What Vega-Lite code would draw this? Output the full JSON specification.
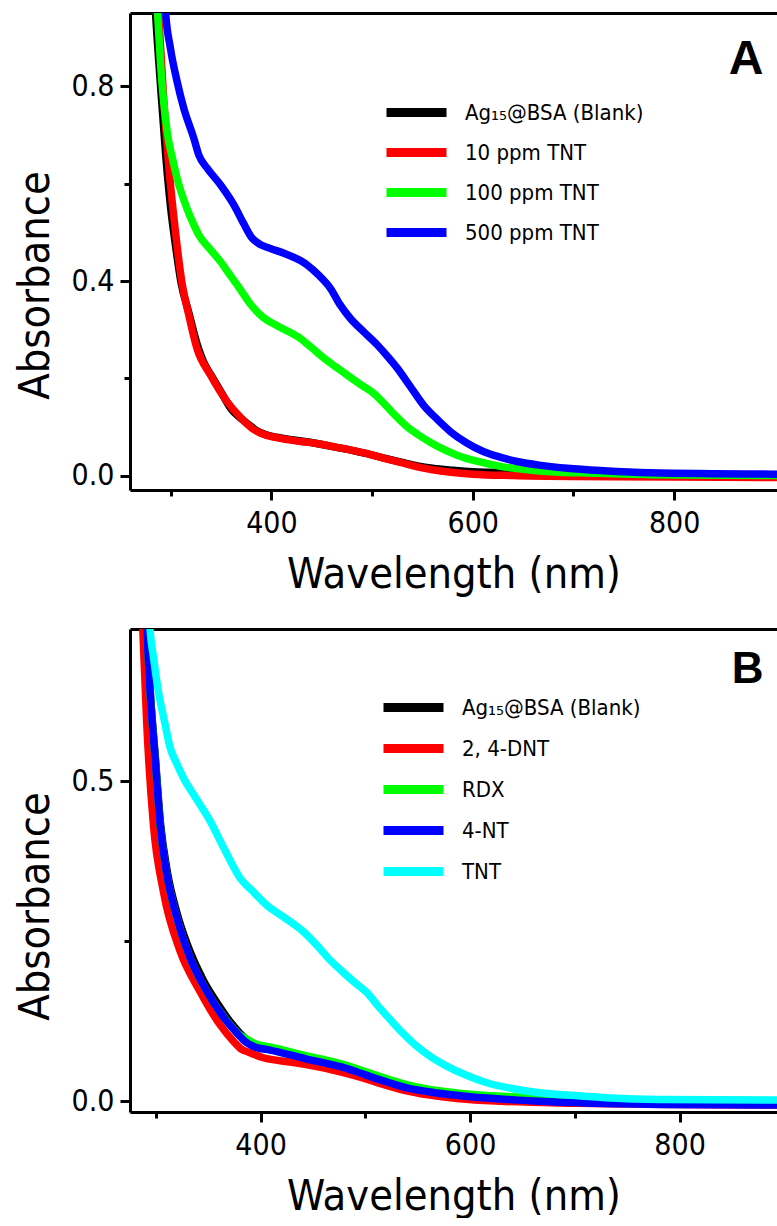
{
  "$schema": "https://vega.github.io/schema/vega-lite/v6.json",
  "padding": {"left": 14, "top": 13, "right": 0, "bottom": 0},
  "spacing": 33,
  "background": "white",
  "resolve": {"scale": {"color": "independent"}, "legend": {"color": "independent"}},
  "config": {
    "view": {"stroke": null},
    "axis": {
      "grid": false,
      "domainColor": "black",
      "domainWidth": 3,
      "tickColor": "black",
      "tickWidth": 3,
      "labelColor": "black",
      "titleColor": "black",
      "labelFont": "'DejaVu Sans Condensed', 'Liberation Sans', sans-serif",
      "titleFont": "'DejaVu Sans Condensed', 'Liberation Sans', sans-serif",
      "labelFontSize": 30,
      "titleFontSize": 43,
      "titleFontWeight": "normal",
      "labelPadding": 6
    },
    "legend": {
      "labelFont": "'DejaVu Sans Condensed', 'Liberation Sans', sans-serif",
      "labelFontSize": 22,
      "labelColor": "black",
      "labelLimit": 400
    }
  },
  "datasets": {
    "A": [
      {"series": "Ag₁₅@BSA (Blank)", "nm": 278, "abs": 1.25},
      {"series": "Ag₁₅@BSA (Blank)", "nm": 285, "abs": 0.95},
      {"series": "Ag₁₅@BSA (Blank)", "nm": 290, "abs": 0.80},
      {"series": "Ag₁₅@BSA (Blank)", "nm": 295, "abs": 0.66},
      {"series": "Ag₁₅@BSA (Blank)", "nm": 300, "abs": 0.55},
      {"series": "Ag₁₅@BSA (Blank)", "nm": 305, "abs": 0.47},
      {"series": "Ag₁₅@BSA (Blank)", "nm": 310, "abs": 0.40},
      {"series": "Ag₁₅@BSA (Blank)", "nm": 318, "abs": 0.335},
      {"series": "Ag₁₅@BSA (Blank)", "nm": 326, "abs": 0.272},
      {"series": "Ag₁₅@BSA (Blank)", "nm": 334, "abs": 0.228},
      {"series": "Ag₁₅@BSA (Blank)", "nm": 340, "abs": 0.207},
      {"series": "Ag₁₅@BSA (Blank)", "nm": 350, "abs": 0.172},
      {"series": "Ag₁₅@BSA (Blank)", "nm": 360, "abs": 0.137},
      {"series": "Ag₁₅@BSA (Blank)", "nm": 370, "abs": 0.117},
      {"series": "Ag₁₅@BSA (Blank)", "nm": 380, "abs": 0.101},
      {"series": "Ag₁₅@BSA (Blank)", "nm": 385, "abs": 0.093},
      {"series": "Ag₁₅@BSA (Blank)", "nm": 395, "abs": 0.084},
      {"series": "Ag₁₅@BSA (Blank)", "nm": 405, "abs": 0.079},
      {"series": "Ag₁₅@BSA (Blank)", "nm": 420, "abs": 0.074},
      {"series": "Ag₁₅@BSA (Blank)", "nm": 445, "abs": 0.066},
      {"series": "Ag₁₅@BSA (Blank)", "nm": 465, "abs": 0.058},
      {"series": "Ag₁₅@BSA (Blank)", "nm": 480, "abs": 0.052},
      {"series": "Ag₁₅@BSA (Blank)", "nm": 495, "abs": 0.045},
      {"series": "Ag₁₅@BSA (Blank)", "nm": 510, "abs": 0.037},
      {"series": "Ag₁₅@BSA (Blank)", "nm": 530, "abs": 0.027},
      {"series": "Ag₁₅@BSA (Blank)", "nm": 545, "abs": 0.020},
      {"series": "Ag₁₅@BSA (Blank)", "nm": 560, "abs": 0.015},
      {"series": "Ag₁₅@BSA (Blank)", "nm": 580, "abs": 0.011},
      {"series": "Ag₁₅@BSA (Blank)", "nm": 600, "abs": 0.008},
      {"series": "Ag₁₅@BSA (Blank)", "nm": 640, "abs": 0.006},
      {"series": "Ag₁₅@BSA (Blank)", "nm": 700, "abs": 0.004},
      {"series": "Ag₁₅@BSA (Blank)", "nm": 800, "abs": 0.002},
      {"series": "Ag₁₅@BSA (Blank)", "nm": 905, "abs": 0.001},

      {"series": "10 ppm TNT", "nm": 280, "abs": 1.25},
      {"series": "10 ppm TNT", "nm": 288, "abs": 0.95},
      {"series": "10 ppm TNT", "nm": 293, "abs": 0.776},
      {"series": "10 ppm TNT", "nm": 298, "abs": 0.639},
      {"series": "10 ppm TNT", "nm": 304.7, "abs": 0.502},
      {"series": "10 ppm TNT", "nm": 311, "abs": 0.399},
      {"series": "10 ppm TNT", "nm": 318, "abs": 0.330},
      {"series": "10 ppm TNT", "nm": 326, "abs": 0.262},
      {"series": "10 ppm TNT", "nm": 339.5, "abs": 0.207},
      {"series": "10 ppm TNT", "nm": 356, "abs": 0.152},
      {"series": "10 ppm TNT", "nm": 370, "abs": 0.118},
      {"series": "10 ppm TNT", "nm": 381, "abs": 0.097},
      {"series": "10 ppm TNT", "nm": 392, "abs": 0.085},
      {"series": "10 ppm TNT", "nm": 405, "abs": 0.078},
      {"series": "10 ppm TNT", "nm": 429, "abs": 0.070},
      {"series": "10 ppm TNT", "nm": 445, "abs": 0.066},
      {"series": "10 ppm TNT", "nm": 465, "abs": 0.058},
      {"series": "10 ppm TNT", "nm": 478, "abs": 0.053},
      {"series": "10 ppm TNT", "nm": 495, "abs": 0.045},
      {"series": "10 ppm TNT", "nm": 511, "abs": 0.036},
      {"series": "10 ppm TNT", "nm": 528, "abs": 0.027},
      {"series": "10 ppm TNT", "nm": 545, "abs": 0.018},
      {"series": "10 ppm TNT", "nm": 560, "abs": 0.012},
      {"series": "10 ppm TNT", "nm": 578, "abs": 0.007},
      {"series": "10 ppm TNT", "nm": 600, "abs": 0.003},
      {"series": "10 ppm TNT", "nm": 640, "abs": 0.0},
      {"series": "10 ppm TNT", "nm": 700, "abs": -0.002},
      {"series": "10 ppm TNT", "nm": 800, "abs": -0.003},
      {"series": "10 ppm TNT", "nm": 905, "abs": -0.004},

      {"series": "100 ppm TNT", "nm": 280, "abs": 1.3},
      {"series": "100 ppm TNT", "nm": 287, "abs": 0.95},
      {"series": "100 ppm TNT", "nm": 290, "abs": 0.844},
      {"series": "100 ppm TNT", "nm": 296.5, "abs": 0.707},
      {"series": "100 ppm TNT", "nm": 302, "abs": 0.65},
      {"series": "100 ppm TNT", "nm": 306.4, "abs": 0.611},
      {"series": "100 ppm TNT", "nm": 316, "abs": 0.550},
      {"series": "100 ppm TNT", "nm": 322, "abs": 0.520},
      {"series": "100 ppm TNT", "nm": 327.9, "abs": 0.495},
      {"series": "100 ppm TNT", "nm": 338, "abs": 0.468},
      {"series": "100 ppm TNT", "nm": 349.4, "abs": 0.440},
      {"series": "100 ppm TNT", "nm": 358, "abs": 0.415},
      {"series": "100 ppm TNT", "nm": 366, "abs": 0.392},
      {"series": "100 ppm TNT", "nm": 381, "abs": 0.348},
      {"series": "100 ppm TNT", "nm": 392, "abs": 0.325},
      {"series": "100 ppm TNT", "nm": 405.7, "abs": 0.308},
      {"series": "100 ppm TNT", "nm": 428.8, "abs": 0.282},
      {"series": "100 ppm TNT", "nm": 438.8, "abs": 0.265},
      {"series": "100 ppm TNT", "nm": 455, "abs": 0.237},
      {"series": "100 ppm TNT", "nm": 465, "abs": 0.222},
      {"series": "100 ppm TNT", "nm": 475, "abs": 0.207},
      {"series": "100 ppm TNT", "nm": 488, "abs": 0.188},
      {"series": "100 ppm TNT", "nm": 501.6, "abs": 0.169},
      {"series": "100 ppm TNT", "nm": 511, "abs": 0.150},
      {"series": "100 ppm TNT", "nm": 521.5, "abs": 0.127},
      {"series": "100 ppm TNT", "nm": 535, "abs": 0.100},
      {"series": "100 ppm TNT", "nm": 551, "abs": 0.077},
      {"series": "100 ppm TNT", "nm": 565, "abs": 0.060},
      {"series": "100 ppm TNT", "nm": 584.5, "abs": 0.042},
      {"series": "100 ppm TNT", "nm": 605, "abs": 0.029},
      {"series": "100 ppm TNT", "nm": 627.5, "abs": 0.019},
      {"series": "100 ppm TNT", "nm": 650, "abs": 0.013},
      {"series": "100 ppm TNT", "nm": 677, "abs": 0.008},
      {"series": "100 ppm TNT", "nm": 720, "abs": 0.005},
      {"series": "100 ppm TNT", "nm": 776, "abs": 0.002},
      {"series": "100 ppm TNT", "nm": 905, "abs": 0.0},

      {"series": "500 ppm TNT", "nm": 288, "abs": 1.3},
      {"series": "500 ppm TNT", "nm": 295, "abs": 0.951},
      {"series": "500 ppm TNT", "nm": 299.7, "abs": 0.879},
      {"series": "500 ppm TNT", "nm": 306.4, "abs": 0.810},
      {"series": "500 ppm TNT", "nm": 313, "abs": 0.755},
      {"series": "500 ppm TNT", "nm": 322.9, "abs": 0.694},
      {"series": "500 ppm TNT", "nm": 327.9, "abs": 0.659},
      {"series": "500 ppm TNT", "nm": 336.2, "abs": 0.632},
      {"series": "500 ppm TNT", "nm": 349.4, "abs": 0.598},
      {"series": "500 ppm TNT", "nm": 362.6, "abs": 0.557},
      {"series": "500 ppm TNT", "nm": 372, "abs": 0.520},
      {"series": "500 ppm TNT", "nm": 380.9, "abs": 0.488},
      {"series": "500 ppm TNT", "nm": 390, "abs": 0.474},
      {"series": "500 ppm TNT", "nm": 399, "abs": 0.467},
      {"series": "500 ppm TNT", "nm": 415, "abs": 0.455},
      {"series": "500 ppm TNT", "nm": 428.8, "abs": 0.442},
      {"series": "500 ppm TNT", "nm": 435.5, "abs": 0.433},
      {"series": "500 ppm TNT", "nm": 447, "abs": 0.412},
      {"series": "500 ppm TNT", "nm": 458.6, "abs": 0.385},
      {"series": "500 ppm TNT", "nm": 468, "abs": 0.352},
      {"series": "500 ppm TNT", "nm": 478.5, "abs": 0.323},
      {"series": "500 ppm TNT", "nm": 492, "abs": 0.295},
      {"series": "500 ppm TNT", "nm": 505, "abs": 0.269},
      {"series": "500 ppm TNT", "nm": 515, "abs": 0.246},
      {"series": "500 ppm TNT", "nm": 525, "abs": 0.221},
      {"series": "500 ppm TNT", "nm": 538, "abs": 0.183},
      {"series": "500 ppm TNT", "nm": 551, "abs": 0.145},
      {"series": "500 ppm TNT", "nm": 565, "abs": 0.115},
      {"series": "500 ppm TNT", "nm": 578, "abs": 0.090},
      {"series": "500 ppm TNT", "nm": 594, "abs": 0.067},
      {"series": "500 ppm TNT", "nm": 611, "abs": 0.049},
      {"series": "500 ppm TNT", "nm": 627, "abs": 0.038},
      {"series": "500 ppm TNT", "nm": 644, "abs": 0.029},
      {"series": "500 ppm TNT", "nm": 668, "abs": 0.021},
      {"series": "500 ppm TNT", "nm": 694, "abs": 0.015},
      {"series": "500 ppm TNT", "nm": 730, "abs": 0.010},
      {"series": "500 ppm TNT", "nm": 776, "abs": 0.006},
      {"series": "500 ppm TNT", "nm": 905, "abs": 0.003}
    ],
    "B": [
      {"series": "Ag₁₅@BSA (Blank)", "nm": 285, "abs": 1.0},
      {"series": "Ag₁₅@BSA (Blank)", "nm": 291.5, "abs": 0.7375},
      {"series": "Ag₁₅@BSA (Blank)", "nm": 294.6, "abs": 0.641},
      {"series": "Ag₁₅@BSA (Blank)", "nm": 299.5, "abs": 0.537},
      {"series": "Ag₁₅@BSA (Blank)", "nm": 304.5, "abs": 0.433},
      {"series": "Ag₁₅@BSA (Blank)", "nm": 311, "abs": 0.358},
      {"series": "Ag₁₅@BSA (Blank)", "nm": 320, "abs": 0.295},
      {"series": "Ag₁₅@BSA (Blank)", "nm": 330, "abs": 0.245},
      {"series": "Ag₁₅@BSA (Blank)", "nm": 345, "abs": 0.190},
      {"series": "Ag₁₅@BSA (Blank)", "nm": 360, "abs": 0.150},
      {"series": "Ag₁₅@BSA (Blank)", "nm": 372, "abs": 0.122},
      {"series": "Ag₁₅@BSA (Blank)", "nm": 381, "abs": 0.105},
      {"series": "Ag₁₅@BSA (Blank)", "nm": 386, "abs": 0.097},
      {"series": "Ag₁₅@BSA (Blank)", "nm": 396, "abs": 0.088},
      {"series": "Ag₁₅@BSA (Blank)", "nm": 409, "abs": 0.083},
      {"series": "Ag₁₅@BSA (Blank)", "nm": 444, "abs": 0.069},
      {"series": "Ag₁₅@BSA (Blank)", "nm": 466, "abs": 0.061},
      {"series": "Ag₁₅@BSA (Blank)", "nm": 490, "abs": 0.050},
      {"series": "Ag₁₅@BSA (Blank)", "nm": 507.6, "abs": 0.040},
      {"series": "Ag₁₅@BSA (Blank)", "nm": 539.5, "abs": 0.024},
      {"series": "Ag₁₅@BSA (Blank)", "nm": 577.7, "abs": 0.013},
      {"series": "Ag₁₅@BSA (Blank)", "nm": 600, "abs": 0.009},
      {"series": "Ag₁₅@BSA (Blank)", "nm": 640, "abs": 0.005},
      {"series": "Ag₁₅@BSA (Blank)", "nm": 700, "abs": 0.002},
      {"series": "Ag₁₅@BSA (Blank)", "nm": 800, "abs": 0.0},
      {"series": "Ag₁₅@BSA (Blank)", "nm": 900, "abs": -0.001},

      {"series": "2, 4-DNT", "nm": 282, "abs": 1.0},
      {"series": "2, 4-DNT", "nm": 287.5, "abs": 0.7375},
      {"series": "2, 4-DNT", "nm": 291.3, "abs": 0.589},
      {"series": "2, 4-DNT", "nm": 297.6, "abs": 0.433},
      {"series": "2, 4-DNT", "nm": 307, "abs": 0.329},
      {"series": "2, 4-DNT", "nm": 323, "abs": 0.235},
      {"series": "2, 4-DNT", "nm": 342, "abs": 0.172},
      {"series": "2, 4-DNT", "nm": 361, "abs": 0.120},
      {"series": "2, 4-DNT", "nm": 375, "abs": 0.092},
      {"series": "2, 4-DNT", "nm": 382, "abs": 0.081},
      {"series": "2, 4-DNT", "nm": 388, "abs": 0.077},
      {"series": "2, 4-DNT", "nm": 402.6, "abs": 0.068},
      {"series": "2, 4-DNT", "nm": 430, "abs": 0.061},
      {"series": "2, 4-DNT", "nm": 466, "abs": 0.050},
      {"series": "2, 4-DNT", "nm": 490, "abs": 0.040},
      {"series": "2, 4-DNT", "nm": 510, "abs": 0.030},
      {"series": "2, 4-DNT", "nm": 535, "abs": 0.018},
      {"series": "2, 4-DNT", "nm": 560, "abs": 0.010},
      {"series": "2, 4-DNT", "nm": 590, "abs": 0.004},
      {"series": "2, 4-DNT", "nm": 630, "abs": 0.0},
      {"series": "2, 4-DNT", "nm": 700, "abs": -0.003},
      {"series": "2, 4-DNT", "nm": 800, "abs": -0.005},
      {"series": "2, 4-DNT", "nm": 900, "abs": -0.006},

      {"series": "RDX", "nm": 285, "abs": 1.0},
      {"series": "RDX", "nm": 291.3, "abs": 0.7375},
      {"series": "RDX", "nm": 294.4, "abs": 0.641},
      {"series": "RDX", "nm": 299.2, "abs": 0.537},
      {"series": "RDX", "nm": 304, "abs": 0.433},
      {"series": "RDX", "nm": 310.4, "abs": 0.355},
      {"series": "RDX", "nm": 320, "abs": 0.287},
      {"series": "RDX", "nm": 332.6, "abs": 0.2245},
      {"series": "RDX", "nm": 348.5, "abs": 0.172},
      {"series": "RDX", "nm": 367.6, "abs": 0.126},
      {"series": "RDX", "nm": 380, "abs": 0.104},
      {"series": "RDX", "nm": 385, "abs": 0.099},
      {"series": "RDX", "nm": 396, "abs": 0.089},
      {"series": "RDX", "nm": 409, "abs": 0.085},
      {"series": "RDX", "nm": 444, "abs": 0.071},
      {"series": "RDX", "nm": 466, "abs": 0.063},
      {"series": "RDX", "nm": 476, "abs": 0.059},
      {"series": "RDX", "nm": 490, "abs": 0.052},
      {"series": "RDX", "nm": 507.6, "abs": 0.042},
      {"series": "RDX", "nm": 523, "abs": 0.034},
      {"series": "RDX", "nm": 539.5, "abs": 0.026},
      {"series": "RDX", "nm": 560, "abs": 0.019},
      {"series": "RDX", "nm": 577.7, "abs": 0.015},
      {"series": "RDX", "nm": 600, "abs": 0.011},
      {"series": "RDX", "nm": 640, "abs": 0.007},
      {"series": "RDX", "nm": 700, "abs": 0.004},
      {"series": "RDX", "nm": 781, "abs": 0.002},
      {"series": "RDX", "nm": 900, "abs": 0.001},

      {"series": "4-NT", "nm": 285, "abs": 1.0},
      {"series": "4-NT", "nm": 291.3, "abs": 0.7375},
      {"series": "4-NT", "nm": 294.4, "abs": 0.641},
      {"series": "4-NT", "nm": 299.2, "abs": 0.537},
      {"series": "4-NT", "nm": 304, "abs": 0.433},
      {"series": "4-NT", "nm": 310.4, "abs": 0.355},
      {"series": "4-NT", "nm": 320, "abs": 0.287},
      {"series": "4-NT", "nm": 332.6, "abs": 0.2245},
      {"series": "4-NT", "nm": 348.5, "abs": 0.172},
      {"series": "4-NT", "nm": 367.6, "abs": 0.125},
      {"series": "4-NT", "nm": 380, "abs": 0.102},
      {"series": "4-NT", "nm": 384, "abs": 0.095},
      {"series": "4-NT", "nm": 396, "abs": 0.084},
      {"series": "4-NT", "nm": 409, "abs": 0.080},
      {"series": "4-NT", "nm": 444, "abs": 0.066},
      {"series": "4-NT", "nm": 466, "abs": 0.058},
      {"series": "4-NT", "nm": 476, "abs": 0.054},
      {"series": "4-NT", "nm": 490, "abs": 0.047},
      {"series": "4-NT", "nm": 507.6, "abs": 0.037},
      {"series": "4-NT", "nm": 523, "abs": 0.029},
      {"series": "4-NT", "nm": 539.5, "abs": 0.021},
      {"series": "4-NT", "nm": 560, "abs": 0.015},
      {"series": "4-NT", "nm": 577.7, "abs": 0.011},
      {"series": "4-NT", "nm": 600, "abs": 0.007},
      {"series": "4-NT", "nm": 635, "abs": 0.003},
      {"series": "4-NT", "nm": 698, "abs": -0.002},
      {"series": "4-NT", "nm": 781, "abs": -0.005},
      {"series": "4-NT", "nm": 900, "abs": -0.006},

      {"series": "TNT", "nm": 288, "abs": 1.0},
      {"series": "TNT", "nm": 294.4, "abs": 0.7375},
      {"series": "TNT", "nm": 298, "abs": 0.69},
      {"series": "TNT", "nm": 302.3, "abs": 0.641},
      {"series": "TNT", "nm": 308, "abs": 0.595},
      {"series": "TNT", "nm": 313.5, "abs": 0.553},
      {"series": "TNT", "nm": 320, "abs": 0.527},
      {"series": "TNT", "nm": 326, "abs": 0.506},
      {"series": "TNT", "nm": 338, "abs": 0.474},
      {"series": "TNT", "nm": 351.7, "abs": 0.438},
      {"series": "TNT", "nm": 365, "abs": 0.395},
      {"series": "TNT", "nm": 380.3, "abs": 0.349},
      {"series": "TNT", "nm": 393, "abs": 0.327},
      {"series": "TNT", "nm": 406, "abs": 0.306},
      {"series": "TNT", "nm": 420, "abs": 0.290},
      {"series": "TNT", "nm": 440.8, "abs": 0.265},
      {"series": "TNT", "nm": 458, "abs": 0.236},
      {"series": "TNT", "nm": 466, "abs": 0.221},
      {"series": "TNT", "nm": 475.8, "abs": 0.206},
      {"series": "TNT", "nm": 488, "abs": 0.188},
      {"series": "TNT", "nm": 501.3, "abs": 0.170},
      {"series": "TNT", "nm": 512, "abs": 0.149},
      {"series": "TNT", "nm": 523.5, "abs": 0.128},
      {"series": "TNT", "nm": 536, "abs": 0.106},
      {"series": "TNT", "nm": 549, "abs": 0.086},
      {"series": "TNT", "nm": 563, "abs": 0.069},
      {"series": "TNT", "nm": 577.7, "abs": 0.055},
      {"series": "TNT", "nm": 596, "abs": 0.041},
      {"series": "TNT", "nm": 615.8, "abs": 0.029},
      {"series": "TNT", "nm": 640, "abs": 0.020},
      {"series": "TNT", "nm": 666.7, "abs": 0.0135},
      {"series": "TNT", "nm": 700, "abs": 0.009},
      {"series": "TNT", "nm": 730, "abs": 0.0057},
      {"series": "TNT", "nm": 781, "abs": 0.003},
      {"series": "TNT", "nm": 900, "abs": 0.002}
    ]
  },
  "vconcat": [
    {
      "width": 647,
      "height": 477,
      "data": {"name": "A"},
      "layer": [
        {
          "mark": {"type": "line", "strokeWidth": 7.5, "clip": true, "interpolate": "monotone"},
          "encoding": {
            "x": {"field": "nm", "type": "quantitative",
              "scale": {"domain": [259.6, 902.1], "nice": false, "zero": false},
              "axis": {"title": "Wavelength (nm)", "values": [300, 400, 500, 600, 700, 800],
                "labelExpr": "datum.value % 200 === 0 ? datum.label : ''",
                "tickSize": {"condition": {"test": "datum.value % 200 === 0", "value": 10}, "value": 6},
                "labelPadding": 8, "titlePadding": 15}},
            "y": {"field": "abs", "type": "quantitative",
              "scale": {"domain": [-0.0296, 0.951], "nice": false, "zero": false},
              "axis": {"title": "Absorbance", "values": [0, 0.2, 0.4, 0.6, 0.8], "format": ".1f",
                "labelExpr": "round(datum.value * 10) % 4 === 0 ? datum.label : ''",
                "tickSize": {"condition": {"test": "round(datum.value * 10) % 4 === 0", "value": 10}, "value": 6},
                "titlePadding": 14, "titleY": 272}},
            "color": {"field": "series", "type": "nominal",
              "scale": {"domain": ["Ag₁₅@BSA (Blank)", "10 ppm TNT", "100 ppm TNT", "500 ppm TNT"],
                "range": ["#000000", "#ff0000", "#00ff00", "#0000ff"]},
              "legend": {"title": null, "orient": "none", "legendX": 267, "legendY": 80,
                "symbolType": "M-2,0H2", "symbolStrokeWidth": 9, "symbolSize": 900, "rowPadding": 2, "labelOffset": 29}}
          }
        },
        {
          "mark": {"type": "line", "opacity": 0, "clip": true},
          "encoding": {
            "x": {"field": "nm", "type": "quantitative",
              "axis": {"orient": "top", "labels": false, "ticks": false,
                "title": "A", "titleFont": "'Liberation Sans', sans-serif", "titleFontWeight": "bold", "titleFontSize": 48,
                "titleAlign": "right", "titleBaseline": "alphabetic", "titleAngle": 0, "titleX": 633, "titleY": 60}},
            "y": {"field": "abs", "type": "quantitative"}
          }
        }
      ],
      "resolve": {"axis": {"x": "independent"}}
    },
    {
      "width": 647,
      "height": 483,
      "data": {"name": "B"},
      "layer": [
        {
          "mark": {"type": "line", "strokeWidth": 7.5, "clip": true, "interpolate": "monotone"},
          "encoding": {
            "x": {"field": "nm", "type": "quantitative",
              "scale": {"domain": [275.3, 893.0], "nice": false, "zero": false},
              "axis": {"title": "Wavelength (nm)", "values": [300, 400, 500, 600, 700, 800],
                "labelExpr": "datum.value % 200 === 0 ? datum.label : ''",
                "tickSize": {"condition": {"test": "datum.value % 200 === 0", "value": 10}, "value": 6},
                "labelPadding": 8, "titlePadding": 15}},
            "y": {"field": "abs", "type": "quantitative",
              "scale": {"domain": [-0.0167, 0.7375], "nice": false, "zero": false},
              "axis": {"title": "Absorbance", "values": [0, 0.25, 0.5], "format": ".1f",
                "labelExpr": "datum.value === 0.25 ? '' : datum.label",
                "tickSize": {"condition": {"test": "datum.value === 0.25", "value": 6}, "value": 10},
                "titlePadding": 14, "titleY": 277}},
            "color": {"field": "series", "type": "nominal",
              "scale": {"domain": ["Ag₁₅@BSA (Blank)", "2, 4-DNT", "RDX", "4-NT", "TNT"],
                "range": ["#000000", "#ff0000", "#00ff00", "#0000ff", "#00ffff"]},
              "legend": {"title": null, "orient": "none", "legendX": 264, "legendY": 59,
                "symbolType": "M-2,0H2", "symbolStrokeWidth": 9, "symbolSize": 900, "rowPadding": 3, "labelOffset": 29}}
          }
        },
        {
          "mark": {"type": "line", "opacity": 0, "clip": true},
          "encoding": {
            "x": {"field": "nm", "type": "quantitative",
              "axis": {"orient": "top", "labels": false, "ticks": false,
                "title": "B", "titleFont": "'Liberation Sans', sans-serif", "titleFontWeight": "bold", "titleFontSize": 44,
                "titleAlign": "right", "titleBaseline": "alphabetic", "titleAngle": 0, "titleX": 633, "titleY": 53}},
            "y": {"field": "abs", "type": "quantitative"}
          }
        }
      ],
      "resolve": {"axis": {"x": "independent"}}
    }
  ]
}
